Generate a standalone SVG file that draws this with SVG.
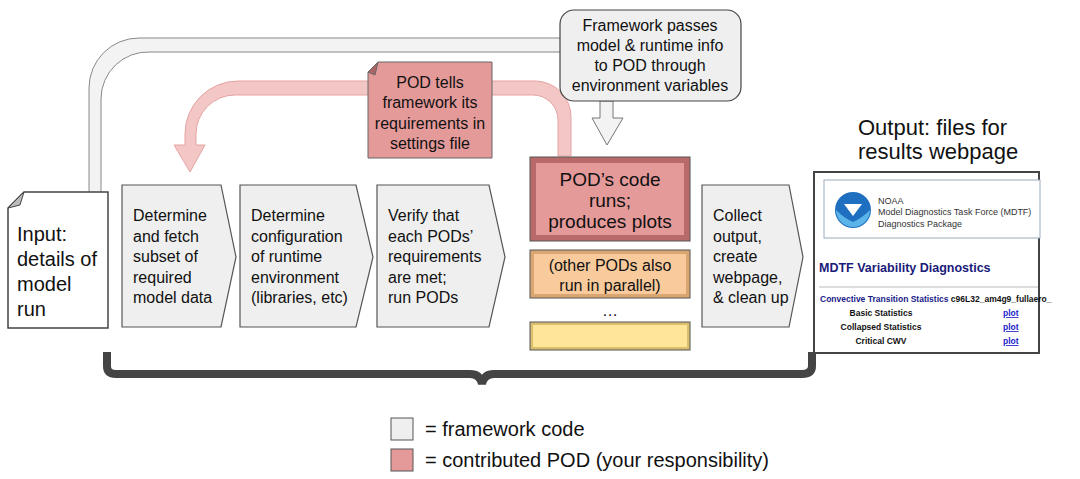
<svg xmlns="http://www.w3.org/2000/svg" width="1080" height="479" viewBox="0 0 1080 479">
<style>
text{font-family:"Liberation Sans",Arial,sans-serif;fill:#111}
.t{font-size:16px}
.chev{fill:#efefef;stroke:#555;stroke-width:1.2}
.w{font-family:"Liberation Sans",Arial,sans-serif;font-weight:bold;font-size:8.5px}
</style>
<rect width="1080" height="479" fill="#fff"/>
<g id="connectors">
<path d="M89,210 V88 A50,50 0 0 1 139,38 H565 V52 H150 A47,47 0 0 0 101,99 V210 Z" fill="#f3f3f3" stroke="#888" stroke-width="1"/>
<path d="M558,156 V120 A25,25 0 0 0 533,95 H235 A39,39 0 0 0 196,134 V145 H205 L190,172 L174,145 H185 V134 A53,53 0 0 1 238,81 H535 A36,36 0 0 1 571,117 V156 Z" fill="#f4c7c7" stroke="#e6a3a3" stroke-width="1"/>
<path d="M600,101 H613 V118 H623 L607,145 L592,118 H600 Z" fill="#f3f3f3" stroke="#777" stroke-width="1"/>
<path d="M107,352 V366 Q107,374 116,374 H470 Q480,374 482,384 Q484,374 494,374 H802 Q812,374 812,366 V352" fill="none" stroke="#444" stroke-width="8"/>
</g>
<g id="input">
<path d="M24,192 H108 V328 H8 V208 Z" fill="#fff" stroke="#444" stroke-width="1.5"/>
<path d="M8,208 L24,192 L20,205 Z" fill="#bbb" stroke="#444" stroke-width="1"/>
<text x="17" y="241" font-size="20">Input:</text>
<text x="17" y="266" font-size="20">details of</text>
<text x="17" y="291" font-size="20">model</text>
<text x="17" y="316" font-size="20">run</text>
</g>
<g id="callout">
<rect x="560" y="10" width="181" height="91" rx="14" fill="#efefef" stroke="#444" stroke-width="1.2"/>
<text class="t" text-anchor="middle" x="650" y="31" textLength="0">Framework passes</text>
<text class="t" text-anchor="middle" x="650" y="51">model &amp; runtime info</text>
<text class="t" text-anchor="middle" x="650" y="71">to POD through</text>
<text class="t" text-anchor="middle" x="650" y="91">environment variables</text>
</g>
<g id="note">
<path d="M378,62 H492 V158 H368 V72 Z" fill="#e59a9a" stroke="#666" stroke-width="1"/>
<path d="M368,72 L378,62 L375,75 Z" fill="#a66" stroke="#666" stroke-width="1"/>
<text class="t" text-anchor="middle" x="430" y="88">POD tells</text>
<text class="t" text-anchor="middle" x="430" y="108">framework its</text>
<text class="t" text-anchor="middle" x="430" y="129">requirements in</text>
<text class="t" text-anchor="middle" x="430" y="149">settings file</text>
</g>
<g id="step1">
<path class="chev" d="M122,185 H221 L236,257 L221,327 H122 Z"/>
<text class="t" x="133" y="221">Determine</text><text class="t" x="133" y="242">and fetch</text><text class="t" x="133" y="262">subset of</text><text class="t" x="133" y="283">required</text><text class="t" x="133" y="303">model data</text>
</g>
<g id="step2">
<path class="chev" d="M240,185 H356 L373,257 L356,327 H240 Z"/>
<text class="t" x="251" y="221">Determine</text><text class="t" x="251" y="242">configuration</text><text class="t" x="251" y="262">of runtime</text><text class="t" x="251" y="283">environment</text><text class="t" x="251" y="303">(libraries, etc)</text>
</g>
<g id="step3">
<path class="chev" d="M377,185 H489 L505,257 L489,327 H377 Z"/>
<text class="t" x="388" y="221">Verify that</text><text class="t" x="388" y="242">each PODs’</text><text class="t" x="388" y="262">requirements</text><text class="t" x="388" y="283">are met;</text><text class="t" x="388" y="303">run PODs</text>
</g>
<g id="podcode">
<rect x="530" y="157" width="160" height="84" fill="#b86a6a" stroke="#555"/>
<rect x="536" y="163" width="148" height="72" fill="#e59a9a"/>
<text x="610" y="186" font-size="19" text-anchor="middle">POD’s code</text>
<text x="610" y="207" font-size="19" text-anchor="middle">runs;</text>
<text x="610" y="228" font-size="19" text-anchor="middle">produces plots</text>
</g>
<g id="otherpods">
<rect x="530" y="250" width="160" height="48" fill="#d9a672" stroke="#555"/>
<rect x="534" y="254" width="152" height="40" fill="#f9cb9c"/>
<text class="t" x="610" y="271" text-anchor="middle">(other PODs also</text>
<text class="t" x="610" y="291" text-anchor="middle">run in parallel)</text>
<text class="t" x="610" y="316" text-anchor="middle">…</text>
</g>
<g id="morepods">
<rect x="530" y="322" width="160" height="28" fill="#d9bf6e" stroke="#555"/>
<rect x="533" y="325" width="154" height="22" fill="#ffe599"/>
</g>
<g id="step5">
<path class="chev" d="M702,185 H789 L803,257 L789,327 H702 Z"/>
<text class="t" x="713" y="221">Collect</text><text class="t" x="713" y="242">output,</text><text class="t" x="713" y="262">create</text><text class="t" x="713" y="283">webpage,</text><text class="t" x="713" y="303">&amp; clean up</text>
</g>
<g id="output">
<text x="858" y="135" font-size="22">Output: files for</text>
<text x="858" y="159" font-size="22">results webpage</text>
<rect x="814" y="172" width="225" height="181" fill="#fff" stroke="#444" stroke-width="2"/>
<rect x="824" y="180" width="216" height="58" fill="#fff" stroke="#9ab" stroke-width="1"/>
<circle cx="853" cy="210" r="18" fill="#1f6fc0"/>
<path d="M836,210 A17,17 0 0 0 870,210 Q862,218 853,222 Q844,218 836,210 Z" fill="#5bb4e8"/>
<path d="M844,204 H862 L853,216 Z" fill="#fff"/>
<text x="878" y="204" font-size="9" style="fill:#333">NOAA</text>
<text x="878" y="215" font-size="9" style="fill:#333">Model Diagnostics Task Force (MDTF)</text>
<text x="878" y="227" font-size="9" style="fill:#333">Diagnostics Package</text>
<text x="819" y="272" font-size="12.5" font-weight="bold" style="fill:#1a1a7a">MDTF Variability Diagnostics</text>
<line x1="819" y1="287" x2="1038" y2="287" stroke="#bbb"/>
<text class="w" x="820" y="302" style="fill:#1a1a8a">Convective Transition Statistics <tspan style="fill:#111">c96L32_am4g9_fullaero_</tspan></text>
<text class="w" x="881" y="316" text-anchor="middle">Basic Statistics</text>
<text class="w" x="881" y="330" text-anchor="middle">Collapsed Statistics</text>
<text class="w" x="881" y="344" text-anchor="middle">Critical CWV</text>
<text class="w" x="1003" y="316" text-decoration="underline" style="fill:#2222cc">plot</text>
<text class="w" x="1003" y="330" text-decoration="underline" style="fill:#2222cc">plot</text>
<text class="w" x="1003" y="344" text-decoration="underline" style="fill:#2222cc">plot</text>
</g>
<g id="legend">
<rect x="391" y="418" width="22" height="22" fill="#efefef" stroke="#555"/>
<text x="425" y="436" font-size="20">= framework code</text>
<rect x="391" y="449" width="22" height="22" fill="#e59a9a" stroke="#555"/>
<text x="425" y="467" font-size="20">= contributed POD (your responsibility)</text>
</g>
</svg>
